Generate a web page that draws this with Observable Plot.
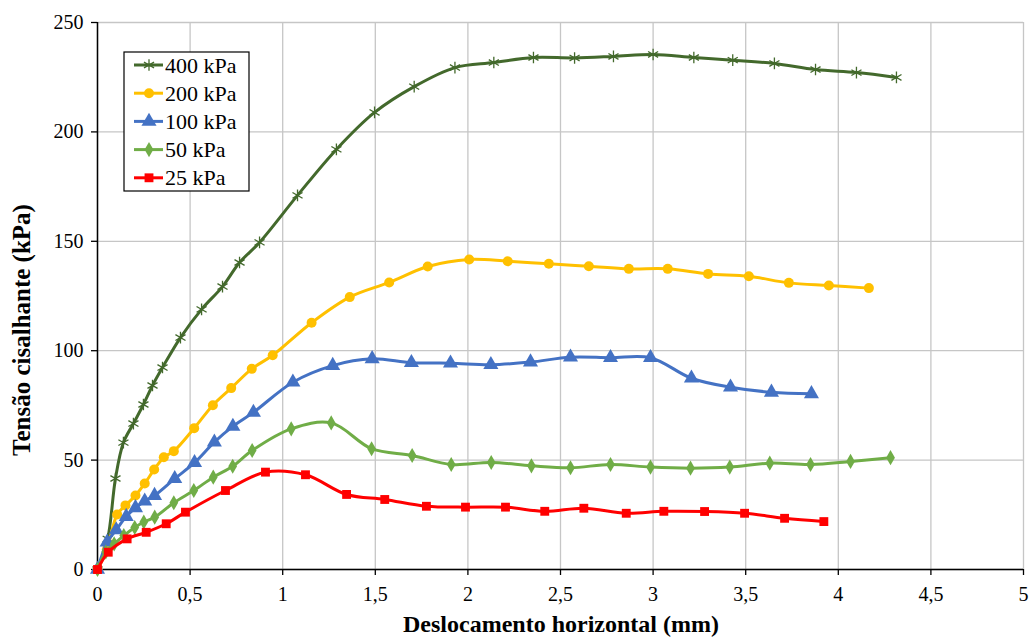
<!DOCTYPE html>
<html>
<head>
<meta charset="utf-8">
<script src="https://cdn.jsdelivr.net/npm/d3@7"></script>
<script src="https://cdn.jsdelivr.net/npm/@observablehq/plot@0.6"></script>
<style>
  html, body { margin: 0; padding: 0; background: #fff; }
  #chart { width: 1029px; height: 639px; }
  #chart svg text { font-family: "Liberation Serif", "Times New Roman", serif !important; }
</style>
</head>
<body>
<div id="chart"></div>
<script>
// ---- data ----
const seriesNames = ["400 kPa", "200 kPa", "100 kPa", "50 kPa", "25 kPa"];

const x400 = [0, 0.055, 0.097, 0.14, 0.194, 0.248, 0.297, 0.351, 0.448, 0.562, 0.675, 0.767, 0.875, 1.08, 1.29, 1.496, 1.71, 1.93, 2.14, 2.354, 2.576, 2.786, 3.0, 3.22, 3.43, 3.655, 3.877, 4.098, 4.314];
const y400 = [0, 14, 41.6, 58.0, 66.7, 75.4, 84.1, 92.3, 106, 118.9, 129.3, 140.3, 149.5, 171, 192, 208.9, 220.7, 229.4, 231.7, 234, 233.8, 234.5, 235.4, 234, 232.8, 231.3, 228.5, 227.1, 224.9];

const x200 = [0, 0.05, 0.106, 0.151, 0.205, 0.255, 0.306, 0.358, 0.412, 0.522, 0.623, 0.722, 0.833, 0.946, 1.156, 1.362, 1.575, 1.783, 2.007, 2.215, 2.437, 2.653, 2.869, 3.079, 3.297, 3.517, 3.733, 3.949, 4.165];
const y200 = [0, 9, 25.1, 29.3, 33.8, 39.3, 45.7, 51.3, 54.1, 64.6, 75.1, 82.9, 91.7, 97.9, 112.8, 124.5, 131.2, 138.5, 141.7, 140.9, 139.7, 138.6, 137.4, 137.4, 135.1, 134.0, 131.0, 129.8, 128.6];

const x100 = [0, 0.052, 0.101, 0.155, 0.205, 0.255, 0.308, 0.417, 0.524, 0.631, 0.731, 0.842, 1.055, 1.27, 1.483, 1.695, 1.906, 2.124, 2.338, 2.554, 2.77, 2.986, 3.207, 3.418, 3.639, 3.855];
const y100 = [0, 12.5, 18.1, 24.2, 28.2, 31.2, 33.8, 41.5, 48.8, 58.2, 65.4, 71.8, 85.6, 93.2, 96.3, 94.5, 94.3, 93.6, 94.8, 97.0, 96.8, 96.8, 87.4, 83.3, 81.0, 80.3];

const x50 = [0, 0.045, 0.09, 0.142, 0.201, 0.25, 0.309, 0.412, 0.52, 0.625, 0.73, 0.835, 1.046, 1.262, 1.48, 1.699, 1.91, 2.126, 2.343, 2.554, 2.77, 2.986, 3.202, 3.414, 3.63, 3.85, 4.066, 4.282];
const y50 = [0, 8, 11.7, 15.5, 19.2, 21.7, 23.9, 30.5, 36.1, 42.2, 47.2, 54.4, 64.3, 67.0, 55.2, 52.1, 48.0, 48.9, 47.4, 46.5, 48.0, 46.8, 46.3, 46.8, 48.6, 48.0, 49.4, 51.1];

const x25 = [0, 0.058, 0.16, 0.263, 0.371, 0.475, 0.691, 0.907, 1.123, 1.345, 1.551, 1.776, 1.987, 2.203, 2.415, 2.626, 2.855, 3.058, 3.278, 3.494, 3.71, 3.922];
const y25 = [0, 7.9, 14.0, 17.0, 20.9, 26.2, 36.1, 44.5, 43.3, 34.3, 32.0, 28.9, 28.5, 28.5, 26.6, 28.0, 25.7, 26.6, 26.5, 25.7, 23.4, 21.9];

const xTicks = [0, 0.5, 1, 1.5, 2, 2.5, 3, 3.5, 4, 4.5, 5];
const yTicks = [0, 50, 100, 150, 200, 250];
const xTitle = "Deslocamento horizontal (mm)";
const yTitle = "Tensão cisalhante (kPa)";

// ---- styles ----
const colors = ["#43692c", "#FFC000", "#4472C4", "#70AD47", "#FF0000"];
const symbols = ["asterisk", "circle", "triangle", "diamond", "square"];
const d3Symbols = [d3.symbolAsterisk, d3.symbolCircle, d3.symbolTriangle, d3.symbolDiamond, d3.symbolSquare];
const radii = [5.5, 5, 5.6, 4.6, 5];

const xs = [x400, x200, x100, x50, x25];
const ys = [y400, y200, y100, y50, y25];
const tables = xs.map((xv, i) => xv.map((x, j) => ({x, y: ys[i][j], s: seriesNames[i]})));

const fmt = d => String(d).replace(".", ",");
const gridColor = "#c6c6c6";

const seriesMarks = tables.flatMap((t, i) => {
  const stroke = symbols[i] === "asterisk";
  return [
    Plot.line(t, {x: "x", y: "y", stroke: colors[i], strokeWidth: 3, curve: "catmull-rom"}),
    Plot.dot(t, stroke
      ? {x: "x", y: "y", symbol: () => symbols[i], r: radii[i], stroke: colors[i], strokeWidth: 1.3, fill: "none"}
      : {x: "x", y: "y", symbol: () => symbols[i], r: radii[i], fill: colors[i], stroke: "none"})
  ];
});

const chart = Plot.plot({
  width: 1029,
  height: 639,
  marginTop: 22,
  marginBottom: 70,
  marginLeft: 97,
  marginRight: 6,
  style: {fontFamily: "'Liberation Serif', 'Times New Roman', serif", fontSize: "20px", color: "#000", background: "#fff"},
  x: {domain: [0, 5], label: null},
  y: {domain: [0, 250], label: null},
  symbol: {type: "identity"},
  marks: [
    Plot.gridX(xTicks, {stroke: gridColor, strokeOpacity: 1, strokeWidth: 1.3}),
    Plot.gridY(yTicks, {stroke: gridColor, strokeOpacity: 1, strokeWidth: 1.3}),
    Plot.axisX(xTicks, {tickFormat: fmt, tickSize: 6, tickPadding: 11, stroke: "#000", strokeWidth: 1.3, fontSize: 20, label: null}),
    Plot.axisY(yTicks, {tickSize: 6, tickPadding: 8, stroke: "#000", strokeWidth: 1.3, fontSize: 20, label: null}),
    Plot.ruleY([0], {stroke: "#000", strokeWidth: 1.5}),
    Plot.ruleX([0], {stroke: "#000", strokeWidth: 1.5}),
    ...seriesMarks
  ]
});

document.getElementById("chart").appendChild(chart);

// ---- axis titles and legend ----
const svg = d3.select(chart);
svg.append("text")
  .attr("x", 561).attr("y", 632)
  .attr("text-anchor", "middle")
  .attr("font-weight", "bold").attr("font-size", 24)
  .text(xTitle);
svg.append("text")
  .attr("transform", "translate(30,330) rotate(-90)")
  .attr("text-anchor", "middle")
  .attr("font-weight", "bold").attr("font-size", 25)
  .text(yTitle);

const lg = svg.append("g").attr("font-size", 22).attr("text-anchor", "start");
lg.append("rect").attr("x", 124).attr("y", 52).attr("width", 125).attr("height", 139)
  .attr("fill", "#fff").attr("stroke", "#000").attr("stroke-width", 1.2);
seriesNames.forEach((name, i) => {
  const cy = 65 + i * 28.2;
  lg.append("line").attr("x1", 134).attr("x2", 163).attr("y1", cy).attr("y2", cy)
    .attr("stroke", colors[i]).attr("stroke-width", 3);
  const p = lg.append("path")
    .attr("d", d3.symbol(d3Symbols[i], radii[i] * radii[i] * Math.PI)())
    .attr("transform", `translate(149,${cy})`);
  if (symbols[i] === "asterisk") p.attr("fill", "none").attr("stroke", colors[i]).attr("stroke-width", 1.3);
  else p.attr("fill", colors[i]);
  lg.append("text").attr("x", 165).attr("y", cy + 7.5).attr("text-anchor", "start").text(name);
});
</script>
</body>
</html>
